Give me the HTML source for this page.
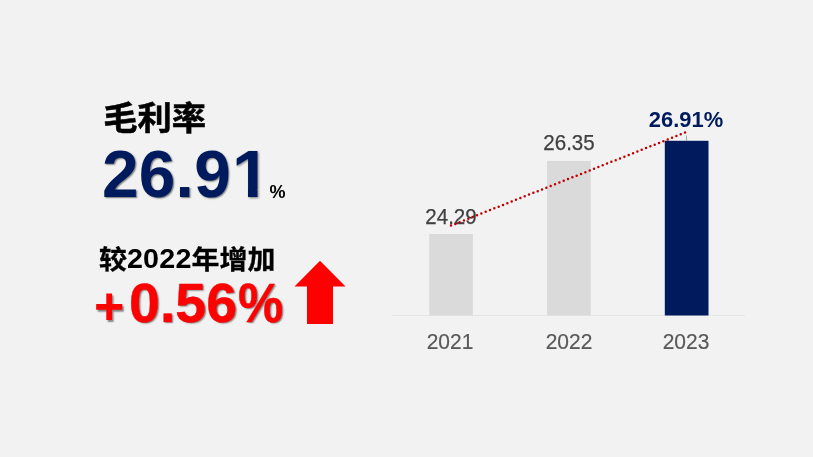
<!DOCTYPE html>
<html lang="zh-CN">
<head>
<meta charset="utf-8">
<title>毛利率</title>
<style>
html,body{margin:0;padding:0;}
body{width:813px;height:457px;background:#f2f2f2;position:relative;overflow:hidden;font-family:"Liberation Sans","Noto Sans CJK SC",sans-serif;}
.t{position:absolute;white-space:nowrap;line-height:1;transform-origin:0 0;}
.c{position:absolute;white-space:nowrap;line-height:1;text-align:center;transform-origin:50% 0;}
#title{left:103.2px;top:98.7px;font-size:34.3px;font-weight:bold;color:#000;transform:scale(1.0,0.958);-webkit-text-stroke:0.55px #000;font-family:"Noto Sans CJK SC","Liberation Sans",sans-serif;}
#big{left:101.8px;top:139.6px;font-size:67px;font-weight:bold;color:#001a5e;letter-spacing:0.3px;transform:scaleX(0.98);text-shadow:1.2px 1.2px 1.5px rgba(0,0,0,0.5);}
#big1{left:232.1px;top:139.6px;font-size:67px;font-weight:bold;color:#001a5e;transform:scaleX(1.025);filter:drop-shadow(1.2px 1.2px 0.8px rgba(0,0,0,0.5));}
#big1 span{display:block;clip-path:polygon(0 0,0.4em 0,0.4em 0.74em,0.371em 0.74em,0.371em 1em,0.233em 1em,0.233em 0.74em,0 0.74em);}
#pct{left:269.6px;top:183px;font-size:18px;font-weight:bold;color:#000;}
#sub{left:99px;top:244.6px;font-size:26.6px;font-weight:bold;color:#000;transform:scaleX(1.051);}
#sub .cj{-webkit-text-stroke:0.3px #000;font-family:"Noto Sans CJK SC","Liberation Sans",sans-serif;}
#sub .n{font-size:27.3px;letter-spacing:0.2px;position:relative;top:-0.8px;}
#plus{left:94px;top:279.8px;font-size:52px;font-weight:bold;color:#ff0000;text-shadow:1.5px 1.5px 1.5px rgba(0,0,0,0.45);}
#delta{left:128.8px;top:275.1px;font-size:55.2px;font-weight:bold;color:#ff0000;-webkit-text-stroke:0.4px #ff0000;transform:scale(1.007,1.015);text-shadow:1.5px 1.5px 1.5px rgba(0,0,0,0.45);}
#dpct{left:237.6px;top:275.1px;font-size:55.2px;font-weight:bold;color:#ff0000;-webkit-text-stroke:0.4px #ff0000;transform:scale(0.922,1.015);text-shadow:1.5px 1.5px 1.5px rgba(0,0,0,0.45);}
.lab{font-size:22.4px;color:#404040;-webkit-text-stroke:0.25px #404040;width:100px;transform:scaleX(0.917);}
.ax{font-size:22.9px;color:#595959;-webkit-text-stroke:0.2px #595959;width:100px;transform:scaleX(0.916);}
#axis{position:absolute;left:392px;top:315px;width:353px;height:1px;background:#e6e6e6;}
svg{position:absolute;left:0;top:0;}
</style>
</head>
<body>
<div id="title" class="t">毛利率</div>
<div id="big" class="t">26.9</div><div id="big1" class="t"><span>1</span></div>
<div id="pct" class="t">%</div>
<div id="sub" class="t"><span class="cj">较</span><span class="n">2022</span><span class="cj">年增加</span></div>
<div id="plus" class="t">+</div>
<div id="delta" class="t">0.56</div><div id="dpct" class="t">%</div>

<div id="axis"></div>

<div class="c lab" style="left:401px;top:205.6px;">24.29</div>
<div class="c lab" style="left:518.9px;top:132.3px;">26.35</div>
<div class="c" id="l3" style="left:636.2px;top:109.4px;width:100px;font-size:22.2px;font-weight:bold;color:#001a5e;transform:scaleX(0.988);">26.91%</div>

<div class="c ax" style="left:399.8px;top:330px;">2021</div>
<div class="c ax" style="left:518.6px;top:329.9px;">2022</div>
<div class="c ax" style="left:635.9px;top:329.8px;">2023</div>

<svg width="813" height="457" viewBox="0 0 813 457">
  <rect x="429.2" y="234" width="43.7" height="81.5" fill="#dadada"/>
  <rect x="547" y="161" width="43.7" height="154.5" fill="#dadada"/>
  <rect x="664.8" y="140.8" width="43.7" height="174.7" fill="#001a5e"/>
  <line x1="686.5" y1="135.5" x2="686.5" y2="141" stroke="#a6a6a6" stroke-width="1"/>
  <line x1="451" y1="225.6" x2="685.1" y2="132.56" pathLength="54.01" stroke="#c00000" stroke-width="2.5" stroke-linecap="round" stroke-dasharray="0 1"/>
  <polygon points="320,260.8 345.5,286.6 333,286.6 333,324 307,324 307,286.6 294.5,286.6" fill="#ff0000"/>
</svg>
</body>
</html>
